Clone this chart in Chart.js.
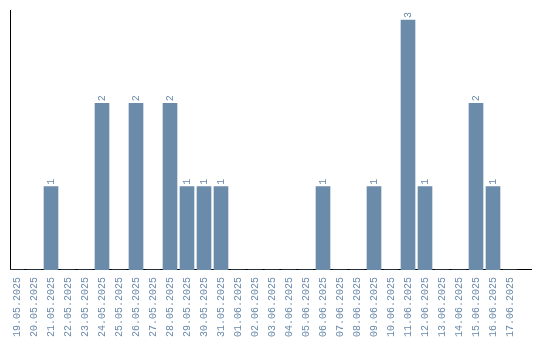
<!DOCTYPE html>
<html>
<head>
<meta charset="utf-8">
<script src="https://cdn.jsdelivr.net/npm/chart.js@4"></script>
<style>
    html, body { margin: 0; padding: 0; background: #fff; }
    #wrap { width: 540px; height: 340px; }
</style>
</head>
<body>
<div id="wrap"><canvas id="dayChart" width="540" height="340"></canvas></div>
<script>

const dates = [
    "19.05.2025", "20.05.2025", "21.05.2025", "22.05.2025", "23.05.2025",
    "24.05.2025", "25.05.2025", "26.05.2025", "27.05.2025", "28.05.2025",
    "29.05.2025", "30.05.2025", "31.05.2025", "01.06.2025", "02.06.2025",
    "03.06.2025", "04.06.2025", "05.06.2025", "06.06.2025", "07.06.2025",
    "08.06.2025", "09.06.2025", "10.06.2025", "11.06.2025", "12.06.2025",
    "13.06.2025", "14.06.2025", "15.06.2025", "16.06.2025", "17.06.2025"
];

const counts = [
    0, 0, 1, 0, 0,
    2, 0, 2, 0, 2,
    1, 1, 1, 0, 0,
    0, 0, 0, 1, 0,
    0, 1, 0, 3, 1,
    0, 0, 2, 1, 0
];

const barColor = "#6b8bab";
const textColor = "#6a8aab";
const labelFont = "'Liberation Mono', 'DejaVu Sans Mono', monospace";


// value labels above the bars, turned like the date labels
const valueLabels = {
    id: "valueLabels",
    afterDatasetsDraw(chart) {
        const ctx = chart.ctx;
        const meta = chart.getDatasetMeta(0);
        ctx.save();
        ctx.font = "10px " + labelFont;
        ctx.fillStyle = textColor;
        ctx.textAlign = "left";
        ctx.textBaseline = "middle";
        meta.data.forEach((bar, i) => {
            if (!counts[i]) return;
            ctx.save();
            ctx.translate(bar.x, bar.y - 2);
            ctx.rotate(-Math.PI / 2);
            ctx.fillText(String(counts[i]), 0, 0);
            ctx.restore();
        });
        ctx.restore();
    }
};


new Chart(document.getElementById("dayChart"), {

    type: "bar",

    data: {
        labels: dates.map((d, i) => i),
        datasets: [{
            data: counts,
            backgroundColor: barColor,
            borderWidth: 0,
            barThickness: 14
        }]
    },

    options: {
        responsive: false,
        animation: false,
        layout: { padding: { left: 10, right: 9, top: 10, bottom: -4 } },
        plugins: {
            legend: { display: false },
            tooltip: { enabled: false }
        },
        scales: {
            x: {
                type: "linear",
                offset: false,
                min: -7 / 17,
                max: -7 / 17 + 521 / 17,
                afterBuildTicks(scale) {
                    scale.ticks = dates.map((d, i) => ({ value: i }));
                },
                afterFit(scale) {
                    scale.paddingLeft = 0;
                    scale.paddingRight = 0;
                },
                grid: { display: false, drawTicks: false, offset: false },
                border: { display: true, color: "#000", width: 1 },
                ticks: {
                    autoSkip: false,
                    minRotation: 90,
                    maxRotation: 90,
                    padding: 7,
                    color: textColor,
                    font: { family: labelFont, size: 10 },
                    callback: v => dates[v]
                }
            },
            y: {
                min: 0,
                max: 3.12,
                grid: { display: false, drawTicks: false },
                border: { display: true, color: "#000", width: 1 },
                ticks: { display: false }
            }
        }
    },

    plugins: [valueLabels]

});

</script>
</body>
</html>
